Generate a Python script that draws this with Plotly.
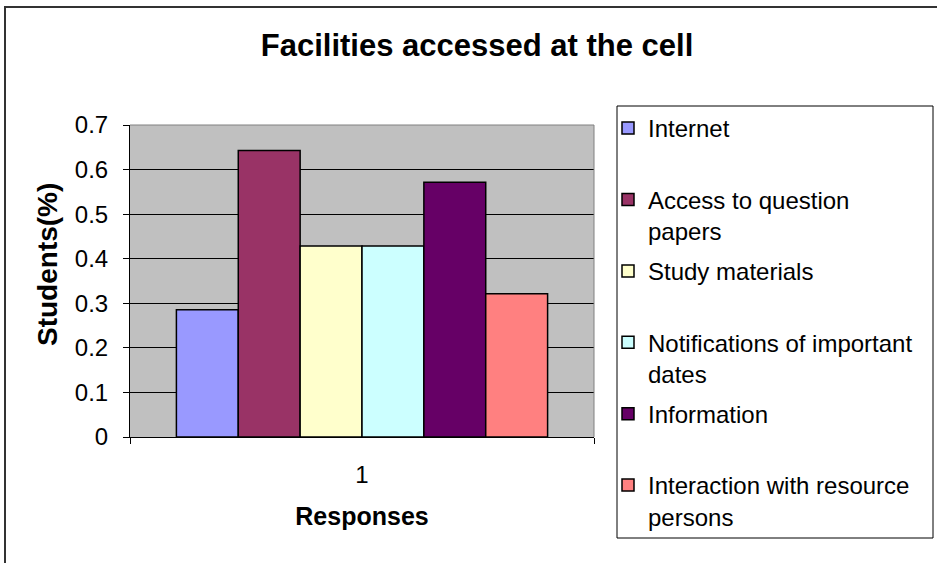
import plotly.graph_objects as go

# ---- data ----
categories = ["1"]
series_names = [
    "Internet",
    "Access to question<br>papers",
    "Study materials",
    "Notifications of important<br>dates",
    "Information",
    "Interaction with resource<br>persons",
]
series_values = [0.2857, 0.6429, 0.4286, 0.4286, 0.5714, 0.3214]
series_colors = ["#9999FF", "#993366", "#FFFFCC", "#CCFFFF", "#660066", "#FF8080"]
y_tick_values = [0, 0.1, 0.2, 0.3, 0.4, 0.5, 0.6, 0.7]
y_tick_labels = ["0", "0.1", "0.2", "0.3", "0.4", "0.5", "0.6", "0.7"]
title_text = "Facilities accessed at the cell"
x_title = "Responses"
y_title = "Students(%)"

FONT = "Liberation Sans, Arial, sans-serif"
W, H = 937, 563
L, R, T, B = 130, 594, 125, 437  # plot area pixel box


def px_x(x):
    return (x - L) / (R - L)


def px_y(y):
    return (B - y) / (B - T)


fig = go.Figure()
for name, val, col in zip(series_names, series_values, series_colors):
    label = name if "<br>" in name else name + "<br>&nbsp;"
    fig.add_trace(go.Bar(
        x=categories, y=[val], name=label, legendgroup=name,
        marker=dict(color=col, line=dict(color="black", width=1.5)),
        hoverinfo="skip",
    ))

fig.update_layout(
    width=W, height=H,
    margin=dict(l=L, r=W - R, t=T, b=H - B, autoexpand=False),
    paper_bgcolor="white",
    plot_bgcolor="#C0C0C0",
    barmode="group", bargap=0.2, bargroupgap=0,
    font=dict(family=FONT, size=22, color="black"),
    title=dict(text=title_text, x=477 / W, xanchor="center",
               xref="container",
               y=1 - 45 / H, yanchor="middle", yref="container",
               font=dict(family=FONT, size=31, color="black", weight="bold")),
    showlegend=True,
    legend=dict(x=px_x(608), y=px_y(106), xanchor="left", yanchor="top",
                bgcolor="rgba(0,0,0,0)", borderwidth=0, maxheight=520,
                traceorder="grouped", tracegroupgap=6, valign="top",
                font=dict(family=FONT, size=24, color="black")),
    xaxis=dict(
        type="category", showgrid=False, showline=True, linecolor="black", linewidth=1,
        ticks="outside", tickson="boundaries", ticklen=6, tickcolor="black",
        ticklabelstandoff=16,
        tickfont=dict(family=FONT, size=24),
        title=dict(text=x_title, standoff=20,
                   font=dict(family=FONT, size=25, weight="bold")),
        automargin=False,
    ),
    yaxis=dict(
        range=[0, 0.7], tickvals=y_tick_values, ticktext=y_tick_labels,
        showgrid=True, gridcolor="black", gridwidth=1,
        showline=True, linecolor="black", linewidth=1,
        ticks="outside", ticklen=6, tickcolor="black", ticklabelstandoff=10,
        tickfont=dict(family=FONT, size=24), zeroline=False,
        automargin=False,
    ),
    annotations=[
        dict(text=y_title, textangle=-90, xref="paper", yref="paper",
             x=px_x(47), y=px_y(265), xanchor="center", yanchor="middle",
             showarrow=False, font=dict(family=FONT, size=28, weight="bold", color="black")),
    ],
    shapes=[
        # plot area top/right border
        dict(type="line", xref="paper", yref="paper", x0=0, x1=1, y0=1, y1=1,
             line=dict(color="#808080", width=1)),
        dict(type="line", xref="paper", yref="paper", x0=1, x1=1, y0=0, y1=1,
             line=dict(color="#808080", width=1)),
        # legend box
        dict(type="rect", xref="paper", yref="paper",
             x0=px_x(617), x1=px_x(933), y0=px_y(538), y1=px_y(106),
             line=dict(color="black", width=1), fillcolor="rgba(0,0,0,0)"),
        # outer chart frame (left and top edges visible)
        dict(type="path", xref="paper", yref="paper",
             path=f"M {px_x(5)},{px_y(570)} L {px_x(5)},{px_y(7)} L {px_x(945)},{px_y(7)}",
             line=dict(color="#333333", width=2)),
    ],
)

fig.write_html("out.html", config={"displayModeBar": False},
               post_script="document.body.style.margin='0';")
